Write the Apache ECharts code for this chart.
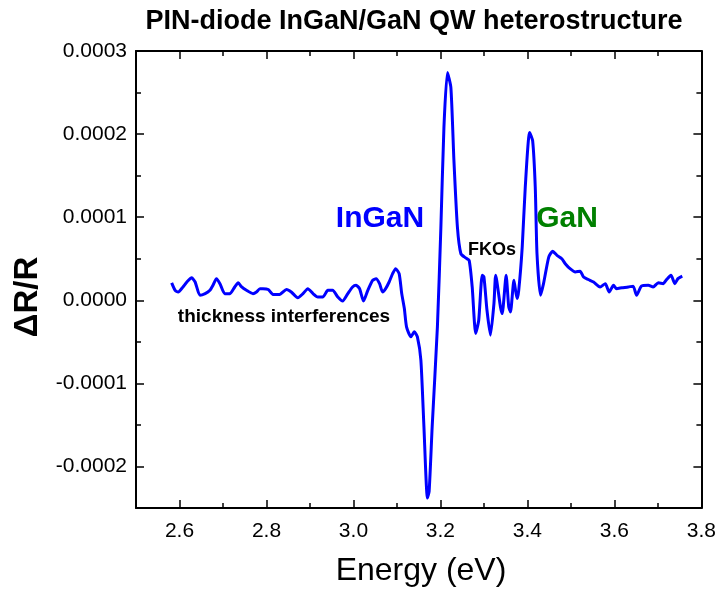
<!DOCTYPE html>
<html>
<head>
<meta charset="utf-8">
<script src="https://cdn.jsdelivr.net/npm/echarts@6/dist/echarts.min.js"></script>
<style>
html,body{margin:0;padding:0;background:#fff;}
#chart{width:719px;height:594px;}
</style>
</head>
<body>
<div id="chart"></div>
<script>
// Photon energy (eV)
const energy = [2.582, 2.590, 2.597, 2.608, 2.617, 2.628, 2.636, 2.647, 2.659, 2.670,
  2.677, 2.685, 2.693, 2.704, 2.716, 2.727, 2.735, 2.743, 2.754, 2.769,
  2.777, 2.785, 2.792, 2.804, 2.815, 2.830, 2.846, 2.857, 2.872, 2.884,
  2.895, 2.907, 2.918, 2.930, 2.941, 2.952, 2.964, 2.975, 2.987, 2.998,
  3.006, 3.014, 3.023, 3.033, 3.044, 3.052, 3.060, 3.067, 3.074, 3.082,
  3.090, 3.097, 3.105, 3.111, 3.117, 3.122, 3.132, 3.140, 3.147, 3.155,
  3.162, 3.170, 3.174, 3.181, 3.193, 3.201, 3.208, 3.216, 3.224, 3.231,
  3.239, 3.247, 3.258, 3.266, 3.273, 3.281, 3.288, 3.296, 3.300, 3.307,
  3.315, 3.323, 3.327, 3.338, 3.342, 3.351, 3.357, 3.361, 3.369, 3.376,
  3.380, 3.388, 3.395, 3.405, 3.412, 3.418, 3.422, 3.430, 3.437, 3.449,
  3.458, 3.468, 3.479, 3.487, 3.498, 3.510, 3.521, 3.529, 3.540, 3.552,
  3.567, 3.579, 3.588, 3.598, 3.605, 3.617, 3.632, 3.643, 3.651, 3.662,
  3.678, 3.689, 3.701, 3.712, 3.720, 3.730, 3.739, 3.746, 3.756];
// ΔR/R in units of 1e-4
const dRR = [0.21, 0.12, 0.10, 0.16, 0.22, 0.27, 0.22, 0.06, 0.08, 0.12,
  0.18, 0.26, 0.20, 0.08, 0.08, 0.16, 0.21, 0.16, 0.12, 0.08,
  0.10, 0.14, 0.14, 0.13, 0.07, 0.07, 0.13, 0.10, 0.03, 0.08,
  0.14, 0.08, 0.04, 0.04, 0.12, 0.12, 0.04, -0.01, 0.08, 0.16,
  0.18, 0.14, -0.01, 0.12, 0.24, 0.26, 0.20, 0.10, 0.14, 0.22,
  0.32, 0.38, 0.32, 0.08, -0.10, -0.32, -0.44, -0.38, -0.44, -0.72,
  -1.52, -2.38, -2.30, -1.52, -0.32, 0.88, 2.08, 2.74, 2.56, 1.68,
  0.88, 0.56, 0.51, 0.48, 0.16, -0.40, -0.24, 0.30, 0.28, -0.12,
  -0.42, -0.04, 0.30, -0.08, -0.16, 0.30, -0.08, -0.14, 0.24, 0.02,
  0.12, 0.64, 1.36, 2.02, 1.92, 1.36, 0.56, 0.06, 0.20, 0.52,
  0.59, 0.54, 0.50, 0.44, 0.38, 0.34, 0.35, 0.28, 0.25, 0.22,
  0.16, 0.20, 0.10, 0.18, 0.14, 0.15, 0.16, 0.17, 0.06, 0.17,
  0.18, 0.16, 0.21, 0.20, 0.25, 0.30, 0.20, 0.26, 0.29];

const xMajorTicks = [2.6, 2.8, 3.0, 3.2, 3.4, 3.6, 3.8];
const xMinorTicks = [2.7, 2.9, 3.1, 3.3, 3.5, 3.7];
const yMajorTicks = [-2, -1, 0, 1, 2, 3];          // units of 1e-4
const yMinorTicks = [-1.5, -0.5, 0.5, 1.5, 2.5];

const FONT = "'Liberation Sans', Arial, Helvetica, sans-serif";
const chart = echarts.init(document.getElementById('chart'), null, {renderer: 'canvas'});

function xAx(position, ticks, len, showLine, showLabel) {
  return {
    type: 'value', min: 2.5, max: 3.8, position: position,
    axisLine: {show: showLine, onZero: false, lineStyle: {color: '#000', width: 2}},
    axisTick: {show: true, inside: true, length: len, customValues: ticks,
               lineStyle: {color: '#000', width: 1.5}},
    axisLabel: showLabel ? {show: true, customValues: ticks, margin: 13, color: '#000',
               fontSize: 21, fontFamily: FONT,
               formatter: v => v.toFixed(1)} : {show: false},
    splitLine: {show: false}
  };
}
function yAx(position, ticks, len, showLine, showLabel) {
  return {
    type: 'value', min: -2.5, max: 3, position: position,
    axisLine: {show: showLine, onZero: false, lineStyle: {color: '#000', width: 2}},
    axisTick: {show: true, inside: true, length: len, customValues: ticks,
               lineStyle: {color: '#000', width: 1.5}},
    axisLabel: showLabel ? {show: true, customValues: ticks, margin: 9, color: '#000',
               fontSize: 21, fontFamily: FONT,
               formatter: v => (v / 10000).toFixed(4)} : {show: false},
    splitLine: {show: false}
  };
}

const option = {
  backgroundColor: '#fff',
  animation: false,
  grid: {left: 136, right: 16, top: 51, bottom: 86, containLabel: false},
  xAxis: [
    xAx('bottom', xMajorTicks, 8, true, true),
    xAx('bottom', xMinorTicks, 5, false, false),
    xAx('top', xMajorTicks, 8, true, false),
    xAx('top', xMinorTicks, 5, false, false)
  ],
  yAxis: [
    yAx('left', yMajorTicks, 8, true, true),
    yAx('left', yMinorTicks, 5, false, false),
    yAx('right', yMajorTicks, 8, true, false),
    yAx('right', yMinorTicks, 5, false, false)
  ],
  series: [{
    type: 'line',
    xAxisIndex: 0, yAxisIndex: 0,
    data: energy.map((e, i) => [e, dRR[i]]),
    showSymbol: false,
    smooth: 0.2,
    lineStyle: {color: '#0000ff', width: 3},
    clip: true
  }],
  graphic: [
    {type: 'text', x: 414, y: 22, style: {text: 'PIN-diode InGaN/GaN QW heterostructure',
      fontSize: 27, fontWeight: 'bold', fontFamily: FONT, fill: '#000', align: 'center', verticalAlign: 'middle'}},
    {type: 'text', x: 421, y: 571, style: {text: 'Energy (eV)',
      fontSize: 32, fontFamily: FONT, fill: '#000', align: 'center', verticalAlign: 'middle'}},
    {type: 'text', x: 28, y: 297, rotation: Math.PI / 2, style: {text: 'ΔR/R',
      fontSize: 33, fontWeight: 'bold', fontFamily: FONT, fill: '#000', align: 'center', verticalAlign: 'middle'}},
    {type: 'text', x: 380, y: 219, style: {text: 'InGaN',
      fontSize: 30, fontWeight: 'bold', fontFamily: FONT, fill: '#0000ff', align: 'center', verticalAlign: 'middle'}},
    {type: 'text', x: 567, y: 219, style: {text: 'GaN',
      fontSize: 30, fontWeight: 'bold', fontFamily: FONT, fill: '#008000', align: 'center', verticalAlign: 'middle'}},
    {type: 'text', x: 492, y: 250, style: {text: 'FKOs',
      fontSize: 18, fontWeight: 'bold', fontFamily: FONT, fill: '#000', align: 'center', verticalAlign: 'middle'}},
    {type: 'text', x: 284, y: 317, style: {text: 'thickness interferences',
      fontSize: 19, fontWeight: 'bold', fontFamily: FONT, fill: '#000', align: 'center', verticalAlign: 'middle'}}
  ]
};
chart.setOption(option);
</script>
</body>
</html>
